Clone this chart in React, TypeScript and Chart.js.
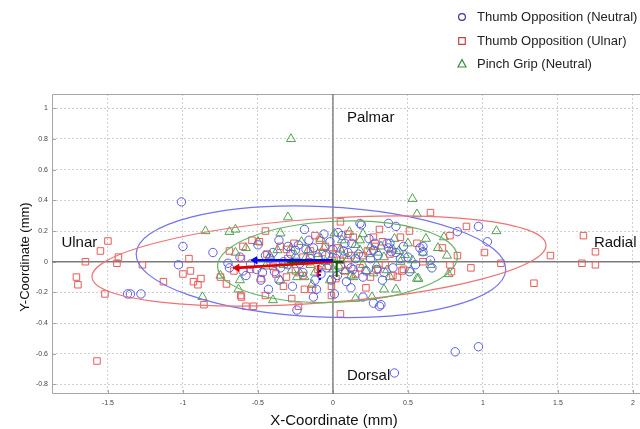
import React, { useEffect, useRef } from 'react';
import { Chart, registerables } from 'chart.js';

Chart.register(...registerables);

// ---- Data ----
const neutralX = [-1.01, -1.37, -1.35, -1.28, -1.0, -1.03, -0.8, 0.41, 0.815, 0.97, 0.42, 0.83, 0.97, 1.03, 0.65, 0.66, 0.6, 0.6, 0.51, 0.4, 0.37, 0.36, 0.32, -0.24, -0.13, 0.01, 0.31, 0.27, 0.2, 0.19, -0.19, 0.06, -0.7, -0.69, -0.55, -0.51, -0.58, 0.035, -0.5, -0.45, -0.39, -0.36, -0.48, -0.3, -0.25, -0.23, -0.13, -0.11, -0.02, -0.01, -0.36, -0.43, 0.18, 0.37, 0.125, 0.27, 0.38, 0.39, 0.58, 0.09, 0.135, 0.29, -0.62, -0.6, -0.15, -0.05, 0.05, 0.15, 0.22, -0.2, -0.08, 0.1, -0.4, -0.33, 0.24, 0.45, -0.06, 0.0, -0.27, 0.12, 0.33, -0.16, -0.42, -0.35, -0.28, -0.22, -0.18, -0.1, -0.04, 0.02, 0.07, 0.12, 0.17, 0.2, 0.25, 0.3, 0.34, 0.42, 0.47, -0.3, -0.12, 0.03, 0.08, 0.28, -0.47, 0.5, 0.55];
const neutralY = [0.39, -0.21, -0.21, -0.21, 0.1, -0.02, 0.06, -0.725, -0.587, -0.554, 0.23, 0.196, 0.23, 0.13, 0.01, -0.04, 0.065, 0.1, -0.065, -0.04, 0.09, 0.12, -0.28, -0.315, -0.23, -0.21, -0.29, -0.27, -0.23, 0.24, 0.21, 0.17, -0.01, -0.04, -0.015, -0.05, -0.09, 0.19, 0.11, 0.04, -0.065, -0.12, -0.12, -0.02, 0.075, 0.11, 0.09, -0.18, 0.13, -0.12, 0.14, -0.18, 0.25, 0.25, 0.12, 0.076, 0.12, 0.065, 0.09, -0.13, -0.05, -0.05, 0.03, -0.06, 0.02, 0.04, -0.03, 0.02, -0.06, -0.07, -0.08, 0.06, 0.06, 0.0, 0.15, 0.02, 0.18, 0.08, -0.16, -0.17, -0.12, 0.14, 0.02, -0.04, 0.05, -0.01, 0.08, 0.03, -0.04, 0.02, 0.07, -0.04, 0.05, -0.1, 0.02, 0.04, -0.07, 0.06, 0.1, 0.1, -0.12, -0.09, 0.12, 0.12, -0.07, 0.03, -0.02];

const ulnarX = [-1.573, -1.5, -1.55, -1.65, -1.71, -1.7, -1.52, -1.43, -1.44, -1.27, -1.13, -0.96, -0.95, -1.0, -0.93, -0.9, -0.88, -0.86, -0.75, -0.71, -0.69, -0.615, -0.58, 0.65, 0.89, 0.51, 0.45, 0.78, 0.73, 0.83, 1.01, 1.12, 0.92, 0.78, 0.79, 0.43, 0.46, 1.45, 1.34, 1.67, 1.75, 1.66, 1.75, 0.31, 0.05, -0.54, -0.49, -0.61, -0.48, -0.31, -0.14, -0.01, 0.05, -0.275, -0.53, -0.61, -0.45, 0.56, 0.47, 0.22, 0.135, -0.45, -0.31, -0.09, -0.19, -0.01, -0.23, -0.4, -0.2, -0.1, 0.0, 0.1, 0.2, 0.28, -0.35, -0.25, 0.15, -0.05, 0.35, -0.15, 0.05, 0.25, -0.55, -0.44, -0.38, -0.3, -0.26, -0.2, -0.16, -0.07, -0.03, 0.03, 0.08, 0.12, 0.18, 0.23, 0.3, 0.33, 0.38, 0.4, -0.12, 0.1, -0.33, 0.02, 0.27, -0.6, -0.66, 0.6];
const ulnarY = [-0.647, 0.135, 0.07, 0.0, -0.1, -0.15, -0.21, 0.03, -0.01, -0.02, -0.13, 0.02, -0.06, -0.08, -0.13, -0.15, -0.11, -0.28, -0.1, -0.145, 0.07, -0.22, -0.29, 0.32, 0.23, 0.2, 0.16, 0.17, 0.09, 0.04, 0.06, -0.01, -0.04, -0.02, -0.065, -0.1, -0.06, 0.04, -0.14, 0.17, 0.065, -0.01, -0.02, 0.21, 0.26, 0.14, 0.13, 0.02, -0.11, -0.1, -0.18, -0.16, -0.34, -0.24, -0.29, -0.23, -0.22, 0.12, -0.05, -0.17, 0.16, 0.2, 0.08, 0.14, -0.18, -0.22, -0.29, -0.03, 0.03, -0.05, 0.05, -0.02, 0.04, 0.1, 0.1, -0.06, -0.08, 0.1, -0.02, 0.07, 0.01, -0.1, -0.05, 0.05, -0.08, 0.02, 0.12, -0.09, 0.0, 0.06, -0.03, 0.09, -0.06, 0.04, -0.04, 0.07, -0.05, 0.13, 0.05, -0.09, 0.17, 0.18, -0.16, -0.11, 0.16, 0.1, -0.06, 0.0];

const pinchX = [-0.28, 0.53, 0.56, 1.09, 0.74, 0.76, 0.77, 0.56, 0.34, 0.41, 0.53, -0.85, -0.69, -0.65, -0.87, -0.75, -0.62, -0.58, -0.65, -0.3, -0.35, -0.35, -0.22, 0.15, 0.11, 0.26, 0.57, 0.48, -0.37, -0.21, -0.165, 0.01, -0.19, -0.4, -0.275, -0.075, 0.18, 0.25, 0.18, 0.34, 0.45, 0.52, 0.36, 0.27, 0.135, 0.42, -0.63, 0.62, -0.1, 0.0, 0.05, -0.05, 0.1, 0.2, -0.15, 0.3, -0.45, 0.08, -0.25, 0.15, -0.02, 0.4, 0.65, 0.7, -0.42, -0.33, -0.28, -0.24, -0.18, -0.12, -0.06, -0.01, 0.04, 0.07, 0.12, 0.16, 0.22, 0.24, 0.29, 0.32, 0.38, 0.44, 0.5, -0.08, 0.06, -0.14, 0.2, -0.5, 0.6];
const pinchY = [0.8, 0.41, 0.31, 0.2, 0.16, 0.04, -0.08, -0.11, -0.18, 0.15, 0.01, 0.2, 0.195, 0.21, -0.23, -0.09, -0.12, 0.09, 0.06, 0.29, 0.185, -0.12, -0.075, -0.24, 0.195, -0.23, -0.11, 0.045, 0.076, 0.13, 0.076, 0.185, -0.1, -0.25, -0.055, -0.03, 0.14, 0.1, 0.075, 0.03, 0.0, -0.055, -0.055, -0.075, -0.1, -0.18, -0.18, 0.15, 0.05, -0.05, 0.08, 0.0, 0.02, -0.02, -0.02, 0.06, -0.03, -0.06, 0.04, 0.11, -0.12, 0.08, -0.02, 0.09, 0.04, -0.02, 0.09, -0.1, 0.03, -0.07, 0.09, 0.03, -0.03, 0.04, -0.09, 0.02, -0.06, 0.05, -0.02, 0.1, -0.1, 0.07, 0.12, 0.15, 0.14, -0.15, 0.18, 0.13, 0.06];

const seriesLabels = ['Thumb Opposition (Neutral)', 'Thumb Opposition (Ulnar)', 'Pinch Grip (Neutral)'];

// confidence ellipses (centre, semi-axes, tilt in degrees)
const ellipseCX = [-0.08, -0.093, 0.03];
const ellipseCY = [0.0, 0.005, 0.0];
const ellipseA = [1.233, 1.517, 0.8];
const ellipseB = [0.36, 0.274, 0.264];
const ellipseAngle = [-2.5, 4.0, 2.4];

// mean direction vectors
const meanStartX = [-0.52, -0.64, -0.28];
const meanStartY = [0.01, -0.04, 0.0];
const meanEndX = [0.0, 0.0, 0.07];
const meanEndY = [0.01, 0.0, 0.0];
// minor vectors
const minorX = [-0.087, -0.098, 0.025];
const minorTopY = [-0.054, -0.02, 0.0];
const minorBottomY = [-0.13, -0.1, -0.1];

const annotationText = ['Palmar', 'Dorsal', 'Ulnar', 'Radial'];
const annotationX = [0.093, 0.093, -1.81, 1.74];
const annotationY = [0.935, -0.745, 0.12, 0.12];

const X_MIN = -1.873;
const X_MAX = 2.047;
const Y_MIN = -0.862;
const Y_MAX = 1.093;

const markerColors = ['#5b5be8', '#e85b5b', '#4fa24f'];
const ellipseColors = ['#7272f2', '#f07272', '#62b262'];
const meanColors = ['#0000ff', '#e00000', '#006400'];
const legendColors = ['#36369e', '#c44444', '#3e8e3e'];
const FONT = "'Liberation Sans', Arial, Helvetica, sans-serif";

function pts(xs: number[], ys: number[]) {
  return xs.map((x, i) => ({ x, y: ys[i] }));
}

function fmt(v: any) {
  return String(parseFloat(Number(v).toFixed(2)));
}

function drawMarker(ctx: CanvasRenderingContext2D, kind: number, cx: number, cy: number, r: number) {
  ctx.beginPath();
  if (kind === 0) {
    ctx.arc(cx, cy, r, 0, Math.PI * 2);
  } else if (kind === 1) {
    ctx.rect(cx - r, cy - r, 2 * r, 2 * r);
  } else {
    ctx.moveTo(cx, cy - r * 1.1);
    ctx.lineTo(cx + r, cy + r * 0.75);
    ctx.lineTo(cx - r, cy + r * 0.75);
    ctx.closePath();
  }
  ctx.stroke();
}

const decorPlugin = {
  id: 'decor',
  beforeDatasetsDraw(chart: any) {
    const { ctx, chartArea: ca, scales } = chart;
    const x = scales.x;
    const y = scales.y;
    ctx.save();
    ctx.strokeStyle = '#a6a6a6';
    ctx.lineWidth = 1;
    ctx.beginPath();
    ctx.moveTo(ca.right, ca.top + 0.5);
    ctx.lineTo(ca.left + 0.5, ca.top + 0.5);
    ctx.lineTo(ca.left + 0.5, ca.bottom - 0.5);
    ctx.lineTo(ca.right, ca.bottom - 0.5);
    ctx.stroke();
    ctx.beginPath();
    y.ticks.forEach((t: any) => {
      const py = Math.round(y.getPixelForValue(t.value)) + 0.5;
      ctx.moveTo(ca.left, py);
      ctx.lineTo(ca.left + 4, py);
    });
    x.ticks.forEach((t: any) => {
      const px = Math.round(x.getPixelForValue(t.value)) + 0.5;
      ctx.moveTo(px, ca.bottom);
      ctx.lineTo(px, ca.bottom - 4);
    });
    ctx.stroke();
    const x0 = x.getPixelForValue(0);
    const y0 = y.getPixelForValue(0);
    ctx.strokeStyle = '#7c7c7c';
    ctx.lineWidth = 1.4;
    ctx.beginPath();
    ctx.moveTo(x0, ca.top);
    ctx.lineTo(x0, ca.bottom);
    ctx.moveTo(ca.left, y0);
    ctx.lineTo(ca.right, y0);
    ctx.stroke();
    ctx.restore();
  },
  afterDatasetsDraw(chart: any) {
    const { ctx, chartArea: ca, scales } = chart;
    const x = scales.x;
    const y = scales.y;
    ctx.save();
    ctx.beginPath();
    ctx.rect(ca.left, ca.top, ca.right - ca.left, ca.bottom - ca.top);
    ctx.clip();
    ellipseCX.forEach((cx, i) => {
      const th = (ellipseAngle[i] * Math.PI) / 180;
      const pcx = x.getPixelForValue(cx);
      const pcy = y.getPixelForValue(ellipseCY[i]);
      const ax = x.getPixelForValue(cx + ellipseA[i] * Math.cos(th)) - pcx;
      const ay = y.getPixelForValue(ellipseCY[i] + ellipseA[i] * Math.sin(th)) - pcy;
      const bx = x.getPixelForValue(cx - ellipseB[i] * Math.sin(th)) - pcx;
      const by = y.getPixelForValue(ellipseCY[i] + ellipseB[i] * Math.cos(th)) - pcy;
      const rx = Math.hypot(ax, ay);
      const ry = Math.hypot(bx, by);
      const rot = Math.atan2(ay, ax);
      ctx.strokeStyle = ellipseColors[i];
      ctx.lineWidth = 1.2;
      ctx.beginPath();
      ctx.ellipse(pcx, pcy, rx, ry, rot, 0, Math.PI * 2);
      ctx.stroke();
    });
    ctx.restore();
  },
  afterDraw(chart: any) {
    const { ctx, scales } = chart;
    const x = scales.x;
    const y = scales.y;
    ctx.save();
    ctx.fillStyle = '#111';
    ctx.font = `15px ${FONT}`;
    ctx.textBaseline = 'middle';
    ctx.textAlign = 'left';
    annotationText.forEach((t, i) => {
      ctx.fillText(t, x.getPixelForValue(annotationX[i]), y.getPixelForValue(annotationY[i]));
    });
    ctx.textAlign = 'center';
    ctx.font = `15px ${FONT}`;
    ctx.fillText('X-Coordinate (mm)', 334, 421);
    ctx.save();
    ctx.translate(25, 257);
    ctx.rotate(-Math.PI / 2);
    ctx.font = `13px ${FONT}`;
    ctx.fillText('Y-Coordinate (mm)', 0, 0);
    ctx.restore();
    ctx.font = `13px ${FONT}`;
    ctx.textAlign = 'left';
    const rows = [17, 41, 64];
    const radii = [3.4, 3.3, 4];
    seriesLabels.forEach((label, i) => {
      ctx.strokeStyle = legendColors[i];
      ctx.lineWidth = 1.2;
      drawMarker(ctx, i, 462, rows[i], radii[i]);
      ctx.fillStyle = '#222';
      ctx.fillText(label, 477, rows[i]);
    });
    ctx.restore();
  },
};

export default function App() {
  const canvasRef = useRef<HTMLCanvasElement | null>(null);

  useEffect(() => {
    if (!canvasRef.current) return;
    const lineSets = meanStartX.map((sx, i) => ({
      label: 'mean' + i,
      data: [
        { x: sx, y: meanStartY[i] },
        { x: meanEndX[i], y: meanEndY[i] },
      ],
      showLine: true,
      borderColor: meanColors[i],
      backgroundColor: meanColors[i],
      borderWidth: 2.6,
      pointRadius: [4, 0],
      pointStyle: 'triangle',
      pointRotation: -90,
      pointBorderWidth: 1,
    }));
    const minorSets = minorX.map((mx, i) => ({
      label: 'minor' + i,
      data: [
        { x: mx, y: minorTopY[i] },
        { x: mx, y: minorBottomY[i] },
      ],
      showLine: true,
      borderColor: meanColors[i],
      borderWidth: 2,
      borderDash: i === 0 ? [2, 2] : [],
      pointRadius: 0,
    }));
    const styles = ['circle', 'rect', 'triangle'];
    const radii = [4.2, 4.6, 5.2];
    const scatterSets = [
      pts(neutralX, neutralY),
      pts(ulnarX, ulnarY),
      pts(pinchX, pinchY),
    ].map((d, i) => ({
      label: seriesLabels[i],
      data: d,
      showLine: false,
      pointStyle: styles[i],
      pointRadius: radii[i],
      pointBorderColor: markerColors[i],
      pointBackgroundColor: 'rgba(0,0,0,0)',
      pointBorderWidth: 1,
    }));

    const chart = new Chart(canvasRef.current, {
      type: 'scatter',
      data: { datasets: [...lineSets, ...minorSets, ...scatterSets] as any },
      options: {
        animation: false,
        responsive: false,
        events: [],
        layout: { padding: { top: 94, left: 0, right: 0, bottom: 0 }, autoPadding: false },
        plugins: { legend: { display: false }, tooltip: { enabled: false } },
        scales: {
          x: {
            type: 'linear',
            min: X_MIN,
            max: X_MAX,
            afterFit: (s: any) => {
              s.height = 35;
              s.paddingLeft = 0;
              s.paddingRight = 0;
            },
            ticks: {
              stepSize: 0.5,
              includeBounds: false,
              padding: 5,
              color: '#444',
              font: { family: FONT, size: 7 },
              callback: (v: any) => fmt(v),
            },
            grid: { color: '#cfcfcf', lineWidth: 1, drawTicks: false },
            border: { display: false, dash: [2, 2] },
          },
          y: {
            type: 'linear',
            min: Y_MIN,
            max: Y_MAX,
            afterFit: (s: any) => {
              s.width = 52;
              s.paddingTop = 0;
              s.paddingBottom = 0;
            },
            ticks: {
              stepSize: 0.2,
              includeBounds: false,
              padding: 4,
              color: '#444',
              font: { family: FONT, size: 7 },
              callback: (v: any) => fmt(v),
            },
            grid: { color: '#cfcfcf', lineWidth: 1, drawTicks: false },
            border: { display: false, dash: [2, 2] },
          },
        },
      },
      plugins: [decorPlugin],
    });
    return () => chart.destroy();
  }, []);

  return (
    <div style={{ position: 'absolute', left: 0, top: 0, width: 640, height: 429, background: '#fff' }}>
      <canvas ref={canvasRef} width={640} height={429} />
    </div>
  );
}
